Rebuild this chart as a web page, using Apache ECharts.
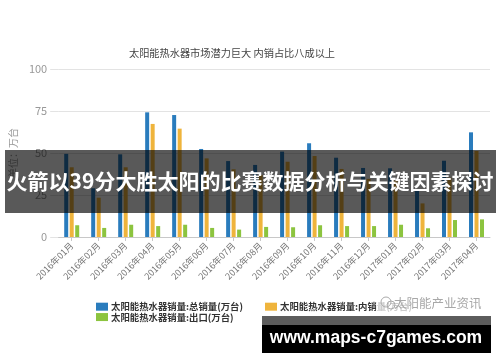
<!DOCTYPE html>
<html>
<head>
<meta charset="utf-8">
<script src="https://cdn.jsdelivr.net/npm/echarts@6/dist/echarts.min.js"></script>
<style>
html,body{margin:0;padding:0;background:#fff;}
#c{width:500px;height:362px;}
</style>
</head>
<body>
<div id="c"></div>
<script>
var categories = ['2016年01月','2016年02月','2016年03月','2016年04月','2016年05月','2016年06月','2016年07月','2016年08月','2016年09月','2016年10月','2016年11月','2016年12月','2017年01月','2017年02月','2017年03月','2017年04月'];
var totalSales = [49.5, 29.0, 49.2, 74.2, 72.6, 52.4, 45.2, 42.9, 50.8, 55.8, 47.2, 41.1, 40.9, 27.5, 45.4, 62.3];
var domesticSales = [41.5, 23.4, 41.5, 67.3, 64.5, 46.8, 40.3, 37.0, 44.8, 48.2, 40.5, 34.6, 33.6, 20.0, 35.3, 51.2];
var exportSales = [7.0, 5.4, 7.3, 6.5, 7.3, 5.4, 4.4, 6.0, 5.8, 7.0, 6.5, 6.5, 7.3, 5.2, 10.1, 10.5];
var yTicks = [0, 25, 50, 75, 100];
var seriesNames = ['太阳能热水器销量:总销量(万台)', '太阳能热水器销量:内销量(万台)', '太阳能热水器销量:出口(万台)'];
var chartTitle = '太阳能热水器市场潜力巨大 内销占比八成以上';
var yName = '单位：万台';
var bannerText = '火箭以39分大胜太阳的比赛数据分析与关键因素探讨';
var siteText = 'www.maps-c7games.com';
var watermarkText = '太阳能产业资讯';

var FONT = '"Noto Sans CJK SC", "Noto Sans", sans-serif';
var chart = echarts.init(document.getElementById('c'), null, {renderer: 'canvas'});
var option = {
  backgroundColor: '#ffffff',
  animation: false,
  textStyle: {fontFamily: FONT},
  title: {
    text: chartTitle,
    left: 124, top: 43,
    textStyle: {fontSize: 10.2, fontWeight: 'normal', color: '#444', fontFamily: FONT}
  },
  legend: [{
    data: [seriesNames[0], seriesNames[2]],
    orient: 'vertical',
    left: 91, top: 297,
    itemWidth: 12, itemHeight: 8, itemGap: 1,
    icon: 'rect',
    textStyle: {fontSize: 9.4, fontWeight: 'bold', color: '#333', fontFamily: FONT, padding: [0,0,0,-2]}
  }, {
    data: [seriesNames[1]],
    orient: 'vertical',
    left: 260, top: 297,
    itemWidth: 12, itemHeight: 8, itemGap: 1,
    icon: 'rect',
    textStyle: {fontSize: 9.4, fontWeight: 'bold', color: '#333', fontFamily: FONT, padding: [0,0,0,-2]}
  }],
  grid: {left: 51, right: 10, top: 69, bottom: 125},
  xAxis: {
    type: 'category',
    data: categories,
    boundaryGap: true,
    axisLine: {lineStyle: {color: '#c8c8c8'}},
    axisTick: {show: true, alignWithLabel: true, length: 4, lineStyle: {color: '#c8c8c8'}},
    axisLabel: {rotate: 45, fontSize: 9, color: '#777', margin: 7, interval: 0, fontFamily: FONT}
  },
  yAxis: {
    type: 'value',
    min: yTicks[0], max: yTicks[yTicks.length - 1], interval: 25,
    name: yName,
    nameLocation: 'middle',
    nameRotate: 90,
    nameGap: 37,
    nameTextStyle: {fontSize: 10, color: '#999', fontFamily: FONT},
    axisLine: {show: false},
    axisTick: {show: true, length: 8, lineStyle: {color: '#e3e3e3'}},
    axisLabel: {fontSize: 11, color: '#999', margin: 11, fontFamily: FONT},
    splitLine: {lineStyle: {color: '#e3e3e3'}}
  },
  series: [{
    name: seriesNames[0], type: 'bar', data: totalSales,
    barWidth: 4, barGap: '37.5%',
    itemStyle: {color: '#2a7cbd'}
  }, {
    name: seriesNames[1], type: 'bar', data: domesticSales,
    barWidth: 4, barGap: '37.5%',
    itemStyle: {color: '#efb43c'}
  }, {
    name: seriesNames[2], type: 'bar', data: exportSales,
    barWidth: 4, barGap: '37.5%',
    itemStyle: {color: '#8cc43f'}
  }],
  graphic: [
    {type: 'rect', z: 100, shape: {x: 376, y: 294, width: 114, height: 18}, style: {fill: 'rgba(255,255,255,0.75)'}},
    {type: 'circle', z: 101, shape: {cx: 386, cy: 302, r: 5}, style: {fill: 'none', stroke: '#aaa', lineWidth: 1}},
    {type: 'circle', z: 101, shape: {cx: 391, cy: 305, r: 4}, style: {fill: 'none', stroke: '#aaa', lineWidth: 1}},
    {type: 'text', z: 101, style: {x: 394, y: 303, text: watermarkText, fill: '#a8a8a8', font: '12.5px ' + FONT, textVerticalAlign: 'middle', textAlign: 'left'}},
    {type: 'rect', z: 100, shape: {x: 5, y: 150, width: 491, height: 63}, style: {fill: 'rgba(0,0,0,0.65)'}},
    {type: 'text', z: 101, style: {x: 250, y: 181, text: bannerText, fill: '#ffffff', font: 'bold 21px ' + FONT, textAlign: 'center', textVerticalAlign: 'middle'}},
    {type: 'rect', z: 100, shape: {x: 262, y: 316, width: 229, height: 10}, style: {fill: '#5c5c5c'}},
    {type: 'rect', z: 100, shape: {x: 262, y: 325, width: 229, height: 28}, style: {fill: '#000000'}},
    {type: 'text', z: 101, style: {x: 376, y: 338, text: siteText, fill: '#ffffff', font: 'bold 17.5px "Liberation Sans", Arial, sans-serif', textAlign: 'center', textVerticalAlign: 'middle'}}
  ]
};
chart.setOption(option);
</script>
</body>
</html>
